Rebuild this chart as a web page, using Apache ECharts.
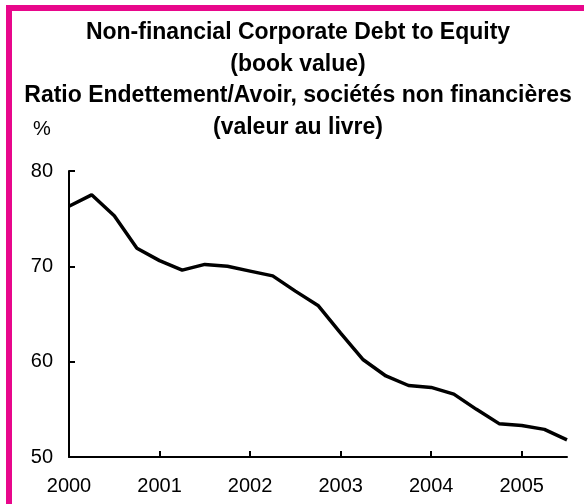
<!DOCTYPE html>
<html>
<head>
<meta charset="utf-8">
<script src="https://cdn.jsdelivr.net/npm/echarts@6/dist/echarts.min.js"></script>
<style>
  html, body { margin: 0; padding: 0; background: #fff; }
  #chart { width: 584px; height: 504px; }
</style>
</head>
<body>
<div id="chart"></div>
<script>
// Quarterly observations, 2000Q1 to 2005Q3
const quarters = [
  '2000Q1','2000Q2','2000Q3','2000Q4',
  '2001Q1','2001Q2','2001Q3','2001Q4',
  '2002Q1','2002Q2','2002Q3','2002Q4',
  '2003Q1','2003Q2','2003Q3','2003Q4',
  '2004Q1','2004Q2','2004Q3','2004Q4',
  '2005Q1','2005Q2','2005Q3'
];

// Debt-to-equity ratio, book value (%)
const debtToEquity = [
  76.3, 77.5, 75.3, 71.9,
  70.6, 69.6, 70.2, 70.0,
  69.5, 69.0, 67.4, 65.9,
  63.0, 60.2, 58.5, 57.5,
  57.3, 56.6, 55.0, 53.5,
  53.3, 52.9, 51.8
];

const titleLines = [
  'Non-financial Corporate Debt to Equity',
  '(book value)',
  'Ratio Endettement/Avoir, sociétés non financières',
  '(valeur au livre)'
];
const titleRowY = [33, 65, 96, 128];

const FONT = '"Liberation Sans", Arial, sans-serif';
const chart = echarts.init(document.getElementById('chart'));

const titleGraphics = titleLines.map((t, i) => ({
  type: 'text',
  x: 298,
  y: titleRowY[i],
  style: {
    text: t,
    font: 'bold 23px ' + FONT,
    fill: '#000',
    align: 'center',
    verticalAlign: 'middle'
  }
}));

chart.setOption({
  animation: false,
  backgroundColor: '#fff',
  grid: { left: 69, right: 17, top: 171, bottom: 47, containLabel: false },
  xAxis: {
    type: 'category',
    data: quarters,
    boundaryGap: false,
    axisLine: { lineStyle: { color: '#000', width: 2 } },
    axisTick: { inside: true, length: 6, interval: 3, lineStyle: { color: '#000', width: 2 } },
    axisLabel: {
      interval: 3,
      margin: 19,
      color: '#000',
      fontSize: 20,
      fontFamily: FONT,
      formatter: v => v.slice(0, 4)
    },
    splitLine: { show: false }
  },
  yAxis: {
    type: 'value',
    min: 50,
    max: 80,
    interval: 10,
    axisLine: { show: true, lineStyle: { color: '#000', width: 2 } },
    axisTick: { show: true, inside: true, length: 6, lineStyle: { color: '#000', width: 2 } },
    axisLabel: { margin: 16, color: '#000', fontSize: 20, fontFamily: FONT },
    splitLine: { show: false }
  },
  series: [{
    type: 'line',
    data: debtToEquity,
    showSymbol: false,
    lineStyle: { color: '#000', width: 3.5 },
    z: 3
  }],
  graphic: [
    { type: 'rect', shape: { x: 6, y: 5, width: 578, height: 6 }, style: { fill: '#E8078B' } },
    { type: 'rect', shape: { x: 6, y: 5, width: 6, height: 499 }, style: { fill: '#E8078B' } },
    ...titleGraphics,
    {
      type: 'text',
      x: 42,
      y: 129,
      style: { text: '%', font: '20px ' + FONT, fill: '#000', align: 'center', verticalAlign: 'middle' }
    }
  ]
});
</script>
</body>
</html>
